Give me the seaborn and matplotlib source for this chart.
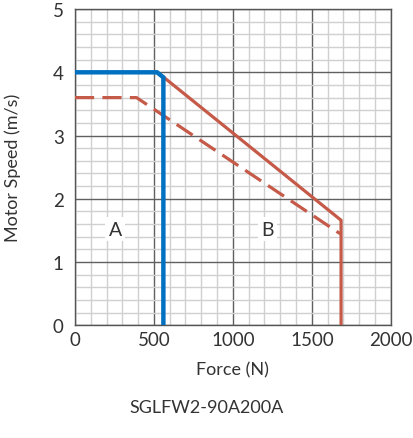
import pandas as pd
import seaborn as sns
import matplotlib.pyplot as plt
from matplotlib.ticker import MultipleLocator

# Curvas de velocidad vs fuerza
blue_force = [0, 520, 560, 560]
blue_speed = [4.0, 4.0, 3.92, 0.0]

red_force = [558, 1685, 1685]
red_speed = [3.93, 1.66, 0.0]

dash_force = [0, 390, 1665, 1685]
dash_speed = [3.6, 3.6, 1.47, 1.44]

region_labels = ["A", "B"]
region_force = [255, 1220]
region_speed = [1.52, 1.52]

x_ticks = [0, 500, 1000, 1500, 2000]
y_ticks = [0, 1, 2, 3, 4, 5]

sns.set_style("white")
plt.rcParams['font.family'] = ['Lato', 'DejaVu Sans']

BLUE = "#0070c0"
RED = "#c55a48"
TXT = "#333333"
FS = 13

fig = plt.figure(figsize=(4.14, 4.39), dpi=100)
ax = fig.add_axes([0.181, 0.257, 0.763, 0.72])

df_red = pd.DataFrame({"force": red_force, "speed": red_speed})
df_dash = pd.DataFrame({"force": dash_force, "speed": dash_speed})
df_blue = pd.DataFrame({"force": blue_force, "speed": blue_speed})

sns.lineplot(data=df_dash, x="force", y="speed", sort=False, estimator=None,
             color=RED, linewidth=2.3, ax=ax, zorder=3)
ax.lines[-1].set_dashes((6, 2.6))
sns.lineplot(data=df_red, x="force", y="speed", sort=False, estimator=None,
             color=RED, linewidth=2.3, ax=ax, zorder=3)
sns.lineplot(data=df_blue, x="force", y="speed", sort=False, estimator=None,
             color=BLUE, linewidth=3.2, ax=ax, zorder=4)
for ln in ax.lines:
    ln.set_solid_joinstyle("miter")
    ln.set_solid_capstyle("butt")

for lab, fx, sy in zip(region_labels, region_force, region_speed):
    ax.text(fx, sy, lab, fontsize=FS + 1, color=TXT, ha="center", va="center",
            zorder=5, bbox=dict(facecolor="white", edgecolor="none", pad=2.5))

ax.set_xlim(0, 2000)
ax.set_ylim(0, 5)
ax.set_xticks(x_ticks)
ax.set_yticks(y_ticks)
ax.xaxis.set_minor_locator(MultipleLocator(100))
ax.yaxis.set_minor_locator(MultipleLocator(0.2))
ax.grid(which="minor", color="#d0d0d0", linewidth=1.0, zorder=0)
ax.grid(which="major", color="#606060", linewidth=1.0, zorder=1)
ax.set_axisbelow(True)
ax.tick_params(axis="x", which="both", length=0, labelsize=FS + 0.5, labelcolor=TXT, pad=4)
ax.tick_params(axis="y", which="both", length=0, labelsize=FS + 0.5, labelcolor=TXT, pad=8)
for sp in ax.spines.values():
    sp.set_color("#555555")
    sp.set_linewidth(1.0)

ax.set_xlabel("Force (N)", fontsize=FS, color=TXT, labelpad=10)
ax.set_ylabel("Motor Speed (m/s)", fontsize=FS, color=TXT)
ax.yaxis.set_label_coords(-0.17, 0.5)
fig.text(0.5, 0.07, "SGLFW2-90A200A", fontsize=FS, color=TXT, ha="center", va="center")

fig.savefig("out.png", dpi=100, facecolor="white")
